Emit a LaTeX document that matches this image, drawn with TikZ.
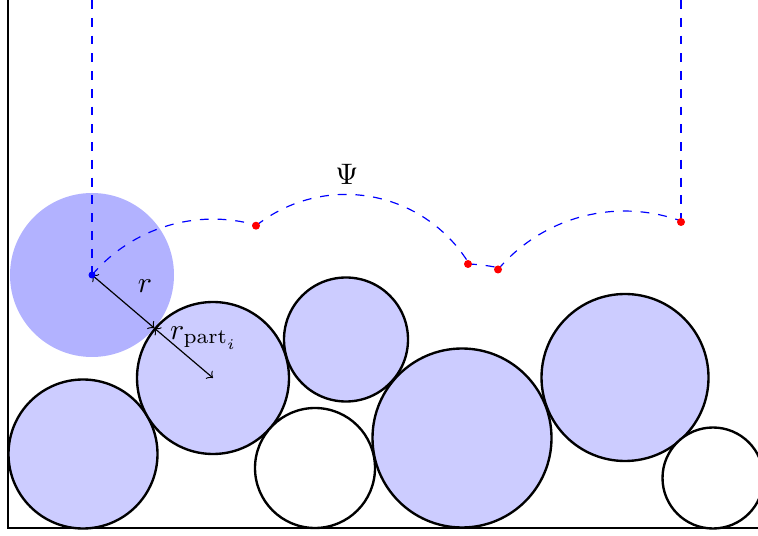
\documentclass[tikz,border=0pt]{standalone}
\usepackage{amsmath,amssymb}
\usepackage{tikz}
\usetikzlibrary{arrows,positioning}

\begin{document}
\begin{tikzpicture}[x=0.011873cm, y=0.011873cm,
    part/.style={draw, thick, fill=blue!20},
    vacia/.style={draw, thick, fill=white},
    psi/.style={blue, dashed}]
    \useasboundingbox (0,0) rectangle (758,535);
    \clip (0,0) rectangle (758,535);

    % Ejes
    \coordinate (sup) at (8,535);
    \coordinate (esq) at (8,7);
    \coordinate (der) at (758,7);
    \draw (sup) -- (esq) -- (der);

    % Sonda
    \coordinate (o) at (92,260);
    \fill[blue!30] (o) circle[radius=82];

    % Particulas
    \coordinate (p1) at (83,81);
    \coordinate (p2) at (213,157);
    \coordinate (p3) at (346,195.5);
    \coordinate (p4) at (315,67);
    \coordinate (p5) at (462,97);
    \coordinate (p6) at (625,157.5);
    \coordinate (p7) at (713,57);
    \draw[part] (p1) circle[radius=74.5];
    \draw[part] (p2) circle[radius=76];
    \draw[part] (p3) circle[radius=62];
    \draw[vacia] (p4) circle[radius=60];
    \draw[part] (p5) circle[radius=89.5];
    \draw[part] (p6) circle[radius=83.5];
    \draw[vacia] (p7) circle[radius=50.5];

    % Trayectoria Psi
    \coordinate (d1) at (256,309.3);
    \coordinate (d2) at (468,271);
    \coordinate (d3) at (498,265.5);
    \coordinate (d4) at (681,313);
    \draw[psi] (o |- sup) -- (o);
    \draw[psi] (o) arc[start angle=139.59, end angle=74.34, radius=158.9];
    \draw[psi] (d1) arc[start angle=128.43, end angle=31.75, radius=144.4];
    \draw[psi] (d2) arc[start angle=88.03, end angle=77.94, radius=173.2];
    \draw[psi] (d3) arc[start angle=139.62, end angle=70.19, radius=166];
    \draw[psi] (d4 |- sup) -- (d4);
    \node (lpsi) at (347,360.5) {$\Psi$};

    % Radios
    \coordinate (k) at (154.4,206.8);
    \draw[<->] (o) -- (k);
    \draw[<->] (k) -- (p2);
    \node (lr) at (145,249) {$r$};
    \node (lrp) at (204,197) {$r_{\text{part}_i}$};

    % Puntos
    \fill[blue] (o) circle[radius=3.5];
    \foreach \d in {d1,d2,d3,d4}
        \fill[red] (\d) circle[radius=4];
\end{tikzpicture}
\end{document}
